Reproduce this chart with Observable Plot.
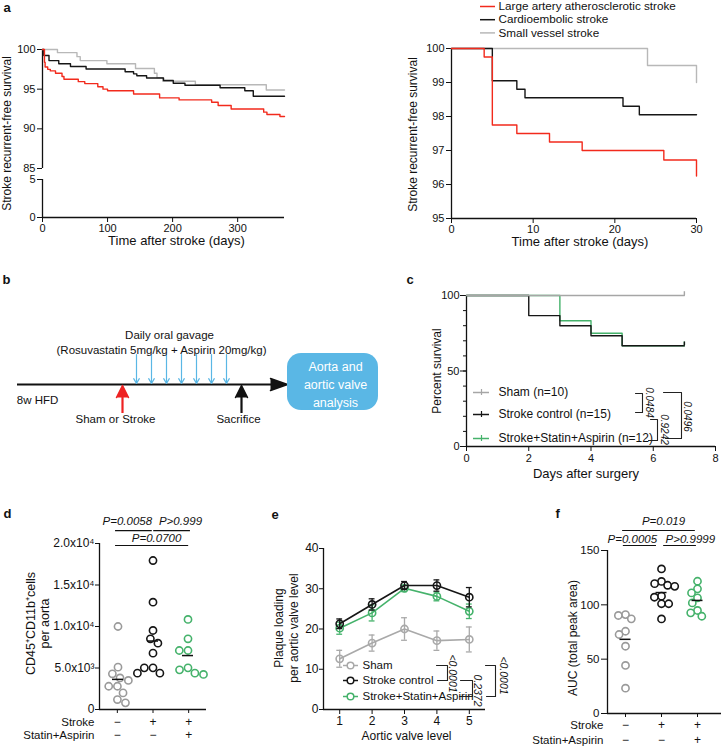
<!DOCTYPE html>
<html>
<head>
<meta charset="utf-8">
<script src="https://cdn.jsdelivr.net/npm/d3@7"></script>
<script src="https://cdn.jsdelivr.net/npm/@observablehq/plot@0.6"></script>
<style>
  html, body { margin: 0; padding: 0; background: #fff; overflow: hidden; }
  #root { position: relative; width: 721px; height: 750px; overflow: hidden; background: #fff; }
</style>
</head>
<body>
<div id="root"></div>
<script>
// ================= DATA =================
// Panel a: stroke recurrence-free survival (%) by stroke subtype
const aSeriesNames = ["Large artery atherosclerotic stroke", "Cardioembolic stroke", "Small vessel stroke"];
// a (left): one-year follow-up, days
const aLongDaysLAA = [0, 3, 4, 8, 12, 20, 30, 33, 55, 65, 85, 93, 100, 140, 180, 210, 260, 270, 290, 340, 345, 365, 372];
const aLongSurvLAA = [100, 98.4, 97.8, 97.5, 97.3, 97.0, 96.6, 96.25, 95.95, 95.7, 95.3, 95.0, 94.8, 94.4, 93.9, 93.65, 93.35, 92.95, 92.5, 92.1, 91.8, 91.55, 91.55];
const aLongDaysCE = [0, 2, 10, 25, 43, 67, 127, 140, 145, 160, 186, 201, 219, 273, 311, 324, 372];
const aLongSurvCE = [100, 99.25, 98.6, 98.2, 97.85, 97.55, 97.2, 96.93, 96.7, 96.4, 96.1, 95.75, 95.5, 95.17, 94.8, 94.1, 94.1];
const aLongDaysSVD = [0, 23, 53, 58, 99, 143, 172, 176, 185, 235, 344, 372];
const aLongSurvSVD = [100, 99.6, 99.1, 98.6, 98.2, 97.6, 97.0, 96.45, 96.0, 95.55, 94.9, 94.9];
const aLongTicksTop = [85, 90, 95, 100];
const aLongTicksBottom = [0, 5];
const aLongTicksX = [0, 100, 200, 300];
// a (right): 30-day follow-up
const aShortDaysLAA = [0, 4, 5, 8, 12, 16, 26, 30];
const aShortSurvLAA = [100, 99.75, 97.75, 97.5, 97.25, 97.0, 96.72, 96.25];
const aShortDaysCE = [0, 5, 8, 9, 21, 23, 30];
const aShortSurvCE = [100, 99.05, 98.8, 98.55, 98.3, 98.05, 98.05];
const aShortDaysSVD = [0, 24, 30];
const aShortSurvSVD = [100, 99.5, 99.0];
const aShortTicksX = [0, 10, 20, 30];
const aShortTicksY = [95, 96, 97, 98, 99, 100];

// Panel b: protocol text
const bTexts = ["Daily oral gavage", "(Rosuvastatin 5mg/kg + Aspirin 20mg/kg)", "8w HFD", "Sham or Stroke", "Sacrifice"];
const bBoxLines = ["Aorta and", "aortic valve", "analysis"];
const bDoses = 7;

// Panel c: percent survival after surgery
const cGroups = ["Sham (n=10)", "Stroke control (n=15)", "Stroke+Statin+Aspirin (n=12)"];
const cShamDays = [0, 7];
const cShamSurv = [100, 100];
const cCtrlDays = [0, 2, 3, 4, 5, 7];
const cCtrlSurv = [100, 86.7, 80, 73.3, 66.7, 66.7];
const cStatDays = [0, 3, 4, 5, 7];
const cStatSurv = [100, 83.3, 75, 66.7, 66.7];
const cPValues = ["0.0484", "0.9242", "0.0496"];
const cTicksX = [0, 2, 4, 6, 8];
const cTicksY = [0, 50, 100];
const cTicksYMinor = [0, 10, 20, 30, 40, 50, 60, 70, 80, 90, 100];

// Panel d: CD45+CD11b+ cells per aorta
const dGroups = ["Sham", "Stroke", "Stroke+Statin+Aspirin"];
const dSham = [10000, 5100, 4300, 3800, 3500, 2800, 2800, 2000, 1200, 800];
const dStroke = [17950, 12930, 9520, 8520, 7990, 6790, 5020, 5020, 4380, 4380];
const dStatin = [10850, 8520, 7110, 7110, 5020, 4780, 4380, 4220];
const dTickValues = [0, 5000, 10000, 15000, 20000];
const dTickLabels = ["0", "5.0x10³", "1.0x10⁴", "1.5x10⁴", "2.0x10⁴"];
const dPValues = ["P=0.0058", "P>0.999", "P=0.0700"];
const rowStroke = ["−", "+", "+"];
const rowStatin = ["−", "−", "+"];

// Panel e: plaque loading per aortic valve level (mean ± SEM)
const eGroups = ["Sham", "Stroke control", "Stroke+Statin+Aspirin"];
const eLevels = [1, 2, 3, 4, 5];
const eShamMean = [12.6, 16.5, 20.0, 17.1, 17.4];
const eShamSem = [2.1, 2.0, 2.8, 2.4, 3.1];
const eCtrlMean = [21.3, 26.1, 30.8, 30.8, 27.9];
const eCtrlSem = [1.2, 1.4, 1.0, 1.4, 2.4];
const eStatMean = [20.2, 24.0, 30.1, 28.1, 24.4];
const eStatSem = [1.5, 2.0, 0.8, 1.1, 1.8];
const ePValues = ["<0.0001", "0.2372", "<0.0001"];
const eTicksY = [0, 10, 20, 30, 40];

// Panel f: AUC (total peak area)
const fSham = [91, 90.2, 87.1, 75.7, 72.7, 61.9, 44.2, 23.3];
const fStroke = [133, 121.5, 119.5, 118, 117, 108, 107, 101, 101, 87];
const fStatin = [121.7, 114.7, 111, 106.4, 101.8, 94.8, 92.6, 89.5];
const fPValues = ["P=0.019", "P=0.0005", "P>0.9999"];
const fTicksY = [0, 50, 100, 150];

// ================= HELPERS =================
const root = document.getElementById("root");
const FONT = '"Liberation Sans", Arial, Helvetica, sans-serif';
const ST = fs => ({fontFamily: FONT, fontSize: fs + "px", color: "#111", background: "transparent", overflow: "visible"});
const INT = d => String(d);
function place(el, left, top) {
  el.style.position = "absolute";
  el.style.left = left + "px";
  el.style.top = top + "px";
  el.style.maxWidth = "none";
  root.appendChild(el);
}
const rows = (xs, ys) => xs.map((t, i) => ({t, s: ys[i]}));
const C = {red: "#f22a1c", black: "#161616", gray: "#b8b8b8", grayC: "#a6a6a6", grayDot: "#9a9a9a", green: "#45b26b", blue: "#5ab7e5"};
const kmLines = set => set.map(s => Plot.line(s.data, {x: "t", y: "s", stroke: s.color, strokeWidth: 1.4, curve: "step-after"}));
const yTitle = (text, dx, dy, fs, extra = {}) =>
  Plot.text([text], {frameAnchor: "left", textAnchor: "middle", lineAnchor: "middle", dx, dy, rotate: -90, fontSize: fs, ...extra});

// ================= PANEL a (left) =================
const aLong = [
  {data: rows(aLongDaysSVD, aLongSurvSVD), color: C.gray},
  {data: rows(aLongDaysCE, aLongSurvCE), color: C.black},
  {data: rows(aLongDaysLAA, aLongSurvLAA), color: C.red}
];
place(Plot.plot({
  width: 290, height: 172, marginLeft: 42, marginRight: 6, marginTop: 49, marginBottom: 4,
  style: ST(11),
  x: {domain: [0, 372], axis: null},
  y: {domain: [85, 100], ticks: aLongTicksTop, tickFormat: INT, tickSize: 5, tickPadding: 2, label: null},
  marks: [
    Plot.ruleX([0], {strokeWidth: 1.3}),
    ...kmLines(aLong),
    yTitle("Stroke recurrent-free survival", -35, 24.5, 12)
  ]
}), 0, 0);
place(Plot.plot({
  width: 290, height: 85, marginLeft: 42, marginRight: 6, marginTop: 9, marginBottom: 38,
  style: ST(11),
  x: {domain: [0, 372], ticks: aLongTicksX, tickFormat: INT, tickSize: 5, tickPadding: 2, label: null},
  y: {domain: [0, 5], ticks: aLongTicksBottom, tickFormat: INT, tickSize: 5, tickPadding: 2, label: null},
  marks: [
    Plot.ruleX([0], {strokeWidth: 1.3}),
    Plot.ruleY([0], {strokeWidth: 1.3}),
    Plot.text(["Time after stroke (days)"], {frameAnchor: "bottom", dx: 13, dy: 27.5, fontSize: 13})
  ]
}), 0, 170);

// ================= PANEL a (right) =================
const aShort = [
  {data: rows(aShortDaysSVD, aShortSurvSVD), color: C.gray},
  {data: rows(aShortDaysCE, aShortSurvCE), color: C.black},
  {data: rows(aShortDaysLAA, aShortSurvLAA), color: C.red}
];
place(Plot.plot({
  width: 340, height: 253, marginLeft: 81, marginRight: 14, marginTop: 48, marginBottom: 35,
  style: ST(11),
  x: {domain: [0, 30], ticks: aShortTicksX, tickFormat: INT, tickSize: 5, tickPadding: 2, label: null},
  y: {domain: [95, 100], ticks: aShortTicksY, tickFormat: INT, tickSize: 5, tickPadding: 2, label: null},
  marks: [
    Plot.ruleX([0], {strokeWidth: 1.3}),
    Plot.ruleY([95], {strokeWidth: 1.3}),
    ...kmLines(aShort),
    yTitle("Stroke recurrent-free survival", -38, 1, 12),
    Plot.text(["Time after stroke (days)"], {frameAnchor: "bottom", dx: 6, dy: 27.5, fontSize: 13})
  ]
}), 370, 0);

// ================= PANEL c =================
const cSeries = [
  {data: rows(cStatDays, cStatSurv), color: C.green},
  {data: rows(cCtrlDays, cCtrlSurv), color: C.black},
  {data: rows(cShamDays, cShamSurv), color: C.grayC}
];
place(Plot.plot({
  width: 341, height: 206, marginLeft: 86, marginRight: 6, marginTop: 15, marginBottom: 40,
  style: ST(11),
  x: {domain: [0, 8], ticks: cTicksX, tickFormat: INT, tickSize: 5, tickPadding: 3, label: null},
  y: {domain: [0, 100], label: null},
  marks: [
    Plot.axisY(cTicksYMinor, {tickSize: 3, tickFormat: () => "", label: null}),
    Plot.axisY(cTicksY, {tickSize: 6, tickPadding: 1, tickFormat: INT, label: null}),
    Plot.ruleX([0], {strokeWidth: 1.3}),
    Plot.ruleY([0], {strokeWidth: 1.3}),
    ...cSeries.map(s => Plot.line(s.data, {x: "t", y: "s", stroke: s.color, strokeWidth: 1.4, curve: "step-after"})),
    ...cSeries.map(s => Plot.ruleX(s.data.slice(-1), {x: "t", y1: "s", y2: d => d.s + 2.5, stroke: s.color, strokeWidth: 1.4})),
    yTitle("Percent survival", -29, 0, 12),
    Plot.text(["Days after surgery"], {frameAnchor: "bottom", dx: -5, dy: 31, fontSize: 13})
  ]
}), 380, 280);

// ================= PANEL d =================
const dValues = [dSham, dStroke, dStatin];
const dColors = [C.grayDot, C.black, C.green];
const dData = dGroups.flatMap((g, gi) => dValues[gi].map(v => ({g, v, c: dColors[gi]})));
const dMeans = dGroups.map((g, gi) => ({g, m: d3.mean(dValues[gi])}));
const dSigPos = [
  {x1: -0.05, x2: 0.98, y: 21550, tx: 0.28, ty: 22650},
  {x1: 1.02, x2: 2.05, y: 21550, tx: 1.77, ty: 22650},
  {x1: -0.05, x2: 2.0, y: 19760, tx: 1.1, ty: 20600}
];
place(Plot.plot({
  width: 240, height: 300, marginLeft: 99, marginRight: 34, marginTop: 93, marginBottom: 41,
  style: ST(12),
  x: {domain: [-0.5, 2.5], ticks: [0, 1, 2], tickSize: 4, tickFormat: () => "", label: null},
  y: {domain: [0, 20000], ticks: dTickValues, tickFormat: d => dTickLabels[dTickValues.indexOf(d)], tickSize: 4, tickPadding: 1, label: null},
  marks: [
    Plot.ruleX([-0.5], {strokeWidth: 1.3}),
    Plot.ruleY([0], {strokeWidth: 1.3}),
    Plot.text(dGroups, {x: (d, i) => i, frameAnchor: "bottom", dy: 16, text: (d, i) => rowStroke[i]}),
    Plot.text(dGroups, {x: (d, i) => i, frameAnchor: "bottom", dy: 29, text: (d, i) => rowStatin[i]}),
    Plot.text(["Stroke"], {frameAnchor: "bottom-left", dx: -5, dy: 16, textAnchor: "end", fontSize: 11.5}),
    Plot.text(["Statin+Aspirin"], {frameAnchor: "bottom-left", dx: -5, dy: 29, textAnchor: "end", fontSize: 11.5}),
    Plot.ruleY(dSigPos, {x1: "x1", x2: "x2", y: "y", strokeWidth: 1.2}),
    Plot.text(dSigPos, {x: "tx", y: "ty", text: (d, i) => dPValues[i], fontStyle: "italic", fontSize: 11.5}),
    yTitle("CD45⁺CD11b⁺cells\nper aorta", -62, -3, 12.5, {lineHeight: 1.15})
  ]
}), 0, 450);
place(Plot.plot({
  width: 240, height: 300, marginLeft: 99, marginRight: 34, marginTop: 93, marginBottom: 41,
  style: ST(12),
  fx: {domain: dGroups, padding: 0, axis: null, label: null},
  y: {domain: [0, 20000], axis: null},
  color: {type: "identity"},
  marks: [
    Plot.dot(dData, Plot.dodgeX({anchor: "middle", padding: 1.5}, {fx: "g", y: "v", r: 3.6, stroke: "c", strokeWidth: 1.6, fill: "white"})),
    Plot.tickY(dMeans, {fx: "g", y: "m", insetLeft: 12, insetRight: 12, strokeWidth: 1.5, stroke: "#111"})
  ]
}), 0, 450);

// ================= PANEL e =================
const eSeries = [
  {mean: eShamMean, sem: eShamSem, color: "#a9a9a9"},
  {mean: eStatMean, sem: eStatSem, color: C.green},
  {mean: eCtrlMean, sem: eCtrlSem, color: C.black}
];
const eRows = s => eLevels.map((x, i) => ({x, m: s.mean[i], e: s.sem[i]}));
place(Plot.plot({
  width: 260, height: 300, marginLeft: 83, marginRight: 15, marginTop: 98, marginBottom: 41,
  style: ST(12),
  x: {domain: [0.5, 5.5], ticks: eLevels, tickFormat: INT, tickSize: 5, tickPadding: 2, label: null},
  y: {domain: [0, 40], ticks: eTicksY, tickFormat: INT, tickSize: 4, tickPadding: 1, label: null},
  marks: [
    Plot.ruleX([0.5], {strokeWidth: 1.3}),
    Plot.ruleY([0], {strokeWidth: 1.3}),
    ...eSeries.flatMap(s => {
      const r = eRows(s);
      return [
        Plot.ruleX(r, {x: "x", y1: d => d.m - d.e, y2: d => d.m + d.e, stroke: s.color, strokeWidth: 1.3}),
        Plot.ruleY(r, {y: d => d.m + d.e, x1: d => d.x - 0.09, x2: d => d.x + 0.09, stroke: s.color, strokeWidth: 1.3}),
        Plot.ruleY(r, {y: d => d.m - d.e, x1: d => d.x - 0.09, x2: d => d.x + 0.09, stroke: s.color, strokeWidth: 1.3}),
        Plot.line(r, {x: "x", y: "m", stroke: s.color, strokeWidth: 1.6}),
        Plot.dot(r, {x: "x", y: "m", r: 3.6, stroke: s.color, strokeWidth: 1.6, fill: "none"})
      ];
    }),
    yTitle("Plaque loading\nper aortic valve level", -37.5, -1, 12, {lineHeight: 1.25}),
    Plot.text(["Aortic valve level"], {frameAnchor: "bottom", dx: 2, dy: 30, fontSize: 12})
  ]
}), 240, 450);

// ================= PANEL f =================
const fValues = [fSham, fStroke, fStatin];
const fData = dGroups.flatMap((g, gi) => fValues[gi].map(v => ({g, v, c: dColors[gi]})));
const fMeans = dGroups.map((g, gi) => ({g, m: d3.mean(fValues[gi])}));
const fSigPos = [
  {x1: -0.08, x2: 1.94, y: 168.4, tx: 1.056, ty: 176.6},
  {x1: -0.06, x2: 0.86, y: 154.6, tx: 0.19, ty: 160.2},
  {x1: 1.06, x2: 1.97, y: 154.6, tx: 1.8, ty: 160.2}
];
place(Plot.plot({
  width: 260, height: 300, marginLeft: 127, marginRight: 7, marginTop: 100, marginBottom: 37,
  style: ST(11.5),
  x: {domain: [-0.5, 3.0], ticks: [0, 1, 2], tickSize: 4, tickFormat: () => "", label: null},
  y: {domain: [0, 150], ticks: fTicksY, tickFormat: INT, tickSize: 6, tickPadding: 2, label: null},
  marks: [
    Plot.ruleX([-0.5], {strokeWidth: 1.3}),
    Plot.ruleY([0], {strokeWidth: 1.3}),
    Plot.text(dGroups, {x: (d, i) => i, frameAnchor: "bottom", dy: 15.5, text: (d, i) => rowStroke[i], fontSize: 12}),
    Plot.text(dGroups, {x: (d, i) => i, frameAnchor: "bottom", dy: 30, text: (d, i) => rowStatin[i], fontSize: 12}),
    Plot.text(["Stroke"], {frameAnchor: "bottom-left", dx: -4, dy: 15.5, textAnchor: "end", fontSize: 11.5}),
    Plot.text(["Statin+Aspirin"], {frameAnchor: "bottom-left", dx: -4, dy: 30, textAnchor: "end", fontSize: 11.5}),
    Plot.ruleY(fSigPos, {x1: "x1", x2: "x2", y: "y", strokeWidth: 1.2}),
    Plot.text(fSigPos, {x: "tx", y: "ty", text: (d, i) => fPValues[i], fontStyle: "italic", fontSize: 11.5}),
    yTitle("AUC (total peak area)", -34, 6, 12)
  ]
}), 480, 450);
place(Plot.plot({
  width: 260, height: 300, marginLeft: 127, marginRight: 25, marginTop: 100, marginBottom: 37,
  style: ST(12),
  fx: {domain: dGroups, padding: 0, axis: null, label: null},
  y: {domain: [0, 150], axis: null},
  color: {type: "identity"},
  marks: [
    Plot.dot(fData, Plot.dodgeX({anchor: "middle", padding: 0}, {fx: "g", y: "v", r: 3.6, stroke: "c", strokeWidth: 1.6, fill: "white"})),
    Plot.tickY(fMeans, {fx: "g", y: "m", insetLeft: 12.5, insetRight: 12.5, strokeWidth: 1.5, stroke: "#111"})
  ]
}), 480, 450);

// ================= OVERLAY: panel letters, diagram b, legends, brackets =================
const aColors = [C.red, C.black, C.gray];
const aLegend = aSeriesNames.map((name, i) => ({name, color: aColors[i], y: 6 + i * 13.2}));
const cColors = [C.grayC, C.black, C.green];
const cLegend = cGroups.map((name, i) => ({name, color: cColors[i], y: [392, 414, 438][i]}));
const eColors = ["#a9a9a9", C.black, C.green];
const eLegend = eGroups.map((name, i) => ({name, color: eColors[i], y: [665, 680, 696][i]}));
const bracketPts = (list) => list.flatMap((pts, id) => pts.map(([x, y]) => ({id, x, y})));
const cBrackets = bracketPts([
  [[635, 393], [642, 393], [642, 412], [635, 412]],
  [[650, 419], [657, 419], [657, 440], [648, 440]],
  [[663, 392], [681, 392], [681, 438], [665, 438]]
]);
const cBracketLabels = [{x: 649, y: 402}, {x: 664, y: 429}, {x: 687, y: 416}];
const eBrackets = bracketPts([
  [[436, 665], [447, 665], [447, 680], [437, 680]],
  [[460, 680], [472, 680], [472, 696], [459, 696]],
  [[485, 665], [495, 665], [495, 696], [486, 696]]
]);
const eBracketLabels = [{x: 452, y: 673}, {x: 477, y: 690}, {x: 503, y: 675}];
const bArrows = d3.range(bDoses).map(i => ({x: 136 + i * 15}));
const bTextPos = [
  {x: 169, y: 335, a: "middle"}, {x: 161, y: 350, a: "middle"}, {x: 37, y: 400, a: "start"},
  {x: 115, y: 419, a: "middle"}, {x: 238, y: 419, a: "middle"}
];

place(Plot.plot({
  width: 721, height: 750, marginLeft: 0, marginRight: 0, marginTop: 0, marginBottom: 0,
  style: ST(12),
  x: {type: "identity", axis: null},
  y: {type: "identity", axis: null},
  color: {type: "identity"},
  marks: [
    // panel letters
    Plot.text(["a", "b", "c", "d", "e", "f"], {x: [3, 2, 406, 3, 271, 555], y: [7, 279, 279, 513, 514, 513], fontWeight: "bold", fontSize: 13, textAnchor: "start"}),
    // a legend
    Plot.ruleY(aLegend, {x1: 480, x2: 495, y: "y", stroke: "color", strokeWidth: 1.5}),
    Plot.text(aLegend, {x: 498, y: "y", text: "name", textAnchor: "start", fontSize: 11.7}),
    // b diagram
    Plot.ruleY([384], {x1: 17, x2: 272, strokeWidth: 2}),
    Plot.line([{x: 270, y: 378}, {x: 287, y: 384}, {x: 270, y: 390}], {x: "x", y: "y", fill: "#111", stroke: "#111"}),
    Plot.arrow(bArrows, {x1: "x", x2: "x", y1: 354, y2: 383, stroke: C.blue, strokeWidth: 1.2, headLength: 7}),
    Plot.ruleX([122], {y1: 396, y2: 413, stroke: "#ee2222", strokeWidth: 2.2}),
    Plot.line([{x: 116, y: 397}, {x: 122, y: 385}, {x: 128, y: 397}], {x: "x", y: "y", fill: "#ee2222", stroke: "#ee2222"}),
    Plot.ruleX([241], {y1: 396, y2: 413, stroke: "#111", strokeWidth: 2.2}),
    Plot.line([{x: 235, y: 397}, {x: 241, y: 385}, {x: 247, y: 397}], {x: "x", y: "y", fill: "#111", stroke: "#111"}),
    Plot.rect([0], {x1: 287, x2: 378, y1: 353, y2: 410, rx: 14, fill: C.blue}),
    Plot.text(bBoxLines, {x: 335, y: (d, i) => 366 + i * 18, fill: "white", fontSize: 12.5}),
    Plot.text(bTexts, {x: (d, i) => bTextPos[i].x, y: (d, i) => bTextPos[i].y, textAnchor: (d, i) => bTextPos[i].a, fontSize: 11.5}),
    // c legend + brackets
    Plot.ruleY(cLegend, {x1: 473, x2: 489, y: "y", stroke: "color", strokeWidth: 1.5}),
    Plot.ruleX(cLegend, {x: 481, y1: d => d.y - 3, y2: d => d.y + 3, stroke: "color", strokeWidth: 1.2}),
    Plot.text(cLegend, {x: 498, y: "y", text: "name", textAnchor: "start", fontSize: 12}),
    Plot.line(cBrackets, {x: "x", y: "y", z: "id", stroke: "#222", strokeWidth: 1.1}),
    Plot.text(cBracketLabels, {x: "x", y: "y", text: (d, i) => cPValues[i], rotate: 90, fontStyle: "italic", fontSize: 10}),
    // e legend + brackets
    Plot.ruleY(eLegend, {x1: 343, x2: 358, y: "y", stroke: "color", strokeWidth: 1.5}),
    Plot.dot(eLegend, {x: 350, y: "y", r: 3.3, stroke: "color", strokeWidth: 1.5, fill: "white"}),
    Plot.text(eLegend, {x: 362, y: "y", text: "name", textAnchor: "start", fontSize: 11.5}),
    Plot.line(eBrackets, {x: "x", y: "y", z: "id", stroke: "#222", strokeWidth: 1.1}),
    Plot.text(eBracketLabels, {x: "x", y: "y", text: (d, i) => ePValues[i], rotate: 90, fontStyle: "italic", fontSize: 10.5})
  ]
}), 0, 0);
</script>
</body>
</html>
